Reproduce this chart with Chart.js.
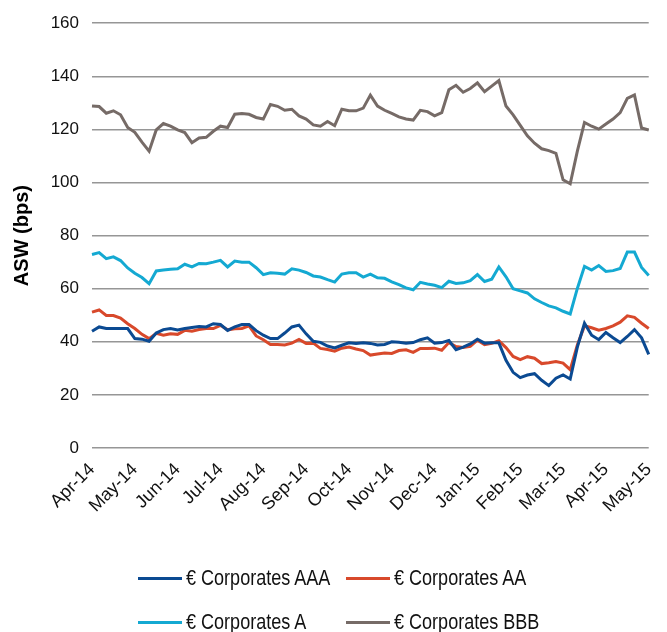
<!DOCTYPE html>
<html>
<head>
<meta charset="utf-8">
<title>ASW (bps)</title>
<script src="https://cdn.jsdelivr.net/npm/chart.js@4.4.1/dist/chart.umd.min.js"></script>
<style>
  html, body { margin: 0; padding: 0; background: #fff; }
  #wrap { position: relative; width: 667px; height: 632px; }
  #legend { position: absolute; left: 138px; top: 556px; display: grid;
            grid-template-columns: 208px 208px; grid-auto-rows: 44px; }
  #legend .item { display: flex; align-items: center; white-space: nowrap; color: #111;
                  font: 22px 'Liberation Sans', Arial, sans-serif; }
  #legend .sw { display: inline-block; flex: none; width: 44px; height: 3px; margin-right: 4px; }
  /* source uses a condensed face; squeeze the regular one to the same width */
  #legend .tx { display: inline-block; transform: scaleX(0.82); transform-origin: left center; }
</style>
</head>
<body>
<div id="wrap">
  <canvas id="c" width="667" height="632"></canvas>
  <div id="legend"></div>
</div>
<script>
// ---- Data (~6 points per month) ----
var MONTHS = ['Apr-14', 'May-14', 'Jun-14', 'Jul-14', 'Aug-14', 'Sep-14', 'Oct-14',
              'Nov-14', 'Dec-14', 'Jan-15', 'Feb-15', 'Mar-15', 'Apr-15', 'May-15'];
var PER_MONTH = 6;
var Y_TICKS = [0, 20, 40, 60, 80, 100, 120, 140, 160];

var AAA = [44, 45.6, 45, 45, 45, 45, 41.2, 41, 40.2, 43.3, 44.6, 45, 44.5, 45, 45.4, 45.8, 45.6, 46.8, 46.5, 44.3, 45.6,
  46.5, 46.5, 44.2, 42.5, 41.2, 41.2, 43.3, 45.6, 46.3, 43, 40.2, 39.8, 38.4, 37.7, 38.7, 39.6, 39.4, 39.6, 39.4, 38.8,
  39, 40, 39.8, 39.5, 39.7, 40.8, 41.5, 39.5, 39.7, 40.5, 37, 38, 39.2, 41, 39.5, 39.6, 39.6, 33, 28.5, 26.5,
  27.5, 28, 25.5, 23.5, 26.3, 27.5, 26, 38, 47, 42.5, 40.8, 43.5, 41.5, 39.7, 42, 44.6, 41.5, 35.3];

var AA = [51.2, 52, 49.9, 49.9, 48.9, 46.8, 45, 42.8, 41.2, 43.2, 42.5, 43, 42.8, 44.3, 44, 44.6, 45, 45, 46.2, 44.5, 44.9,
  45, 46, 42.2, 40.8, 39, 39, 38.8, 39.5, 40.9, 39.4, 39.5, 37.5, 37.1, 36.5, 37.6, 38, 37.3, 36.7, 35, 35.4,
  35.8, 35.6, 36.7, 37, 36, 37.5, 37.5, 37.6, 36.8, 39.7, 38.2, 37.9, 38.3, 40.6, 38.9, 39.4, 40.4, 37.8, 34.5, 33.3,
  34.4, 33.8, 31.8, 32.1, 32.6, 32, 29.5, 38.8, 46, 45.3, 44.4, 45, 46, 47.4, 49.8, 49.2, 47, 45];

var A = [72.9, 73.6, 71.3, 72, 70.6, 67.8, 65.8, 64.2, 61.9, 66.7, 67, 67.3, 67.5, 69.2, 68.2, 69.5, 69.4, 70, 70.7, 68.2, 70.4,
  70, 70, 67.9, 65.3, 66, 65.8, 65.5, 67.5, 67, 66.1, 64.8, 64.4, 63.4, 62.5, 65.5, 66, 66, 64.4, 65.5, 64.1,
  63.9, 62.6, 61.5, 60.3, 59.6, 62.4, 61.8, 61.3, 60.4, 62.8, 62, 62.2, 63, 65.3, 62.7, 63.6, 68.2, 64.5, 60, 59.2,
  58.4, 56.2, 54.8, 53.5, 52.8, 51.5, 50.5, 60.1, 68.4, 67, 68.7, 66.5, 66.8, 67.6, 73.8, 73.8, 68, 65];

var BBB = [128.8, 128.6, 126.1, 127, 125.5, 120.7, 118.9, 115.2, 111.8, 119.8, 122.2, 121.2, 119.8, 118.8, 115, 116.8, 117, 119.3, 121.2, 120.7, 125.7,
  126, 125.7, 124.5, 123.9, 129.4, 128.7, 127.2, 127.6, 125.1, 123.9, 121.7, 121.2, 123, 121.4, 127.6, 127, 127, 128, 132.9, 128.8,
  127.2, 126, 124.7, 123.9, 123.5, 127.2, 126.7, 125.1, 126.3, 134.9, 136.6, 134, 135.4, 137.5, 134.2, 136.3, 138.4, 128.8, 125.5, 121.5,
  117.6, 114.8, 112.7, 112, 111, 101, 99.5, 111.8, 122.6, 121.2, 120.1, 122, 123.9, 126.3, 131.7, 133, 120.5, 119.8];

var NAMES  = ['€ Corporates AAA', '€ Corporates AA', '€ Corporates A', '€ Corporates BBB'];
var COLORS = ['#0b4a92', '#d8492b', '#14a9d2', '#766b67'];
var VALUES = [AAA, AA, A, BBB];

var FONT = "'Liberation Sans', Arial, sans-serif";

var labels = AAA.map(function (v, i) { return i % PER_MONTH === 0 ? MONTHS[i / PER_MONTH] : ''; });

var chart = new Chart(document.getElementById('c'), {
  type: 'line',
  data: {
    labels: labels,
    datasets: VALUES.map(function (vals, k) {
      return { label: NAMES[k], data: vals, borderColor: COLORS[k], backgroundColor: COLORS[k],
               borderWidth: 3, pointRadius: 0, tension: 0, fill: false };
    })
  },
  options: {
    responsive: false, animation: false, devicePixelRatio: 1,
    layout: { padding: { top: 18, right: 13, bottom: 112, left: 0 } },
    plugins: { legend: { display: false }, tooltip: { enabled: false } },
    scales: {
      x: {
        type: 'category', offset: false,
        grid: { display: false }, border: { display: false },
        ticks: { autoSkip: false, minRotation: 45, maxRotation: 45, padding: 3, color: '#111',
                 font: { family: FONT, size: 18 } },
        afterFit: function (s) { s.height = 72; }
      },
      y: {
        min: 0, max: 160,
        afterBuildTicks: function (s) { s.ticks = Y_TICKS.map(function (v) { return { value: v }; }); },
        grid: { color: '#969696', lineWidth: 1.5, drawTicks: false },
        border: { display: false },
        ticks: { padding: 13, color: '#111', font: { family: FONT, size: 17 } },
        title: { display: true, text: 'ASW (bps)', color: '#000', padding: { top: 10, bottom: 0 },
                 font: { family: FONT, size: 20, weight: 'bold' } },
        afterFit: function (s) { s.width = 92; }
      }
    }
  }
});

// ---- Legend: two rows, two aligned columns ----
var leg = document.getElementById('legend');
chart.data.datasets.forEach(function (ds) {
  var item = document.createElement('div');
  item.className = 'item';
  item.innerHTML = '<span class="sw" style="background:' + ds.borderColor + '"></span>' +
                   '<span class="tx">' + ds.label + '</span>';
  leg.appendChild(item);
});
</script>
</body>
</html>
